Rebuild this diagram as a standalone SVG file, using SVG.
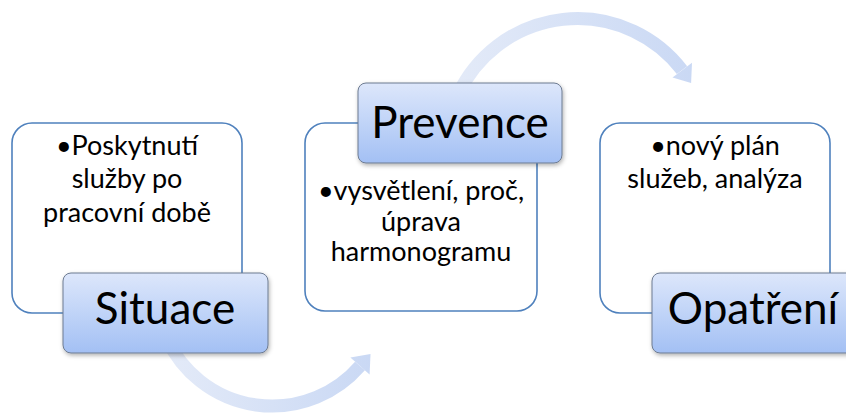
<svg xmlns="http://www.w3.org/2000/svg" width="846" height="416" viewBox="0 0 846 416">
  <defs>
    <linearGradient id="lbl" x1="0" y1="0" x2="0" y2="1">
      <stop offset="0" stop-color="#dde7fb"/>
      <stop offset="1" stop-color="#a3c0f4"/>
    </linearGradient>
    <linearGradient id="arrTop" gradientUnits="userSpaceOnUse" x1="460" y1="0" x2="700" y2="0">
      <stop offset="0" stop-color="#e3eaf8"/>
      <stop offset="1" stop-color="#c9d8f4"/>
    </linearGradient>
    <linearGradient id="arrBot" gradientUnits="userSpaceOnUse" x1="170" y1="0" x2="375" y2="0">
      <stop offset="0" stop-color="#e3eaf8"/>
      <stop offset="1" stop-color="#c9d8f4"/>
    </linearGradient>
    <filter id="sh" x="-10%" y="-10%" width="125%" height="135%">
      <feDropShadow dx="1" dy="2" stdDeviation="2" flood-color="#000" flood-opacity="0.3"/>
    </filter>
  </defs>
  <style>
    .outer { fill: #ffffff; stroke: #4f81bd; stroke-width: 1.6; }
    .label { fill: url(#lbl); stroke: #6d7b91; stroke-width: 1; filter: url(#sh); }
    .body { font-family: Lato, "Open Sans", "Liberation Sans", sans-serif; font-size: 27px; fill: #000; text-anchor: middle; }
    .title { font-family: Lato, "Open Sans", "Liberation Sans", sans-serif; font-size: 44px; fill: #000; text-anchor: middle; }
  </style>

  <g id="connectors">
    <g id="arrow-top">
      <path d="M 457.9 94.7 A 131.9 131.9 0 0 1 682 70.1" fill="none" stroke="url(#arrTop)" stroke-width="13"/>
      <polygon points="692,62.8 672.5,77.4 691.1,83" fill="url(#arrTop)"/>
    </g>
    <g id="arrow-bottom">
      <path d="M 166.9 339 A 116.2 116.2 0 0 0 360 366" fill="none" stroke="url(#arrBot)" stroke-width="13"/>
      <polygon points="369.6,374.5 350.4,357.5 370.5,354" fill="url(#arrBot)"/>
    </g>
  </g>

  <g id="node-situace">
    <rect class="outer" x="12" y="123" width="230" height="190" rx="20"/>
    <text class="body" x="127" y="155">•Poskytnutí</text>
    <text class="body" x="127" y="188">služby po</text>
    <text class="body" x="127" y="222">pracovní době</text>
    <rect class="label" x="63" y="273" width="205" height="80" rx="8"/>
    <text class="title" x="165" y="324">Situace</text>
  </g>

  <g id="node-prevence">
    <rect class="outer" x="305" y="123" width="232" height="188" rx="20"/>
    <text class="body" x="421" y="200">•vysvětlení, proč,</text>
    <text class="body" x="421" y="231">úprava</text>
    <text class="body" x="421" y="261">harmonogramu</text>
    <rect class="label" x="358" y="83" width="204" height="80" rx="8"/>
    <text class="title" x="460" y="138">Prevence</text>
  </g>

  <g id="node-opatreni">
    <rect class="outer" x="600" y="123" width="230" height="190" rx="20"/>
    <text class="body" x="715" y="155">•nový plán</text>
    <text class="body" x="715" y="188">služeb, analýza</text>
    <rect class="label" x="652" y="273" width="205" height="80" rx="8"/>
    <text class="title" x="753" y="324">Opatření</text>
  </g>
</svg>
